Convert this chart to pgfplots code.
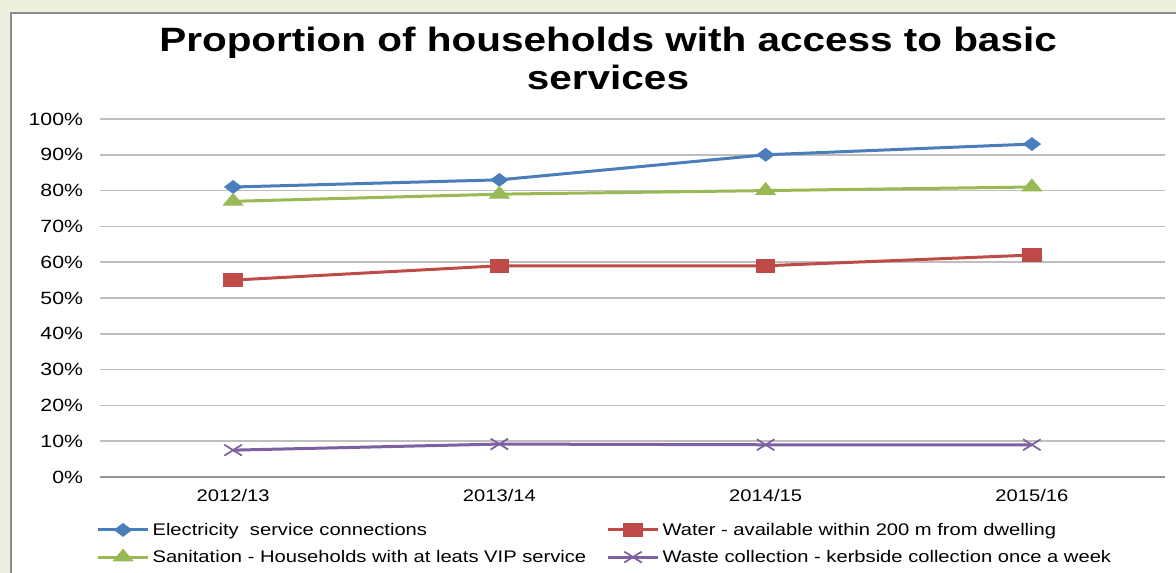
\documentclass[border=0pt]{standalone}
\usepackage{pgfplots}
\pgfplotsset{compat=1.18}
\usepackage{fontspec}
\setmainfont{Liberation Sans}[FakeStretch=1.2]
\definecolor{bg}{RGB}{235,241,222}
\definecolor{framec}{RGB}{140,140,140}
\definecolor{gridc}{RGB}{190,190,190}
\definecolor{axisc}{RGB}{150,150,150}
\definecolor{elec}{RGB}{74,126,187}
\definecolor{water}{RGB}{190,75,72}
\definecolor{sani}{RGB}{152,185,84}
\definecolor{waste}{RGB}{125,96,160}
\begin{document}
\begin{tikzpicture}[x=1pt,y=1pt]
\useasboundingbox (0,0) rectangle (882,429.75);
\fill[bg] (0,0) rectangle (882,429.75);
\fill[white] (8.25,-5) rectangle (890,420);
\draw[framec, line width=1.5pt] (8.25,-5) -- (8.25,420) -- (890,420);
\node[font=\fontsize{25.3}{30}\selectfont\bfseries, anchor=base, inner sep=0pt] at (456,390.75) {Proportion of households with access to basic};
\node[font=\fontsize{25.3}{30}\selectfont\bfseries, anchor=base, inner sep=0pt] at (456,362.5) {services};
\begin{axis}[
  at={(75pt,72pt)}, anchor=south west,
  width=798.75pt, height=268.5pt, scale only axis,
  xmin=-0.5, xmax=3.5, ymin=0, ymax=100,
  xtick={0,1,2,3}, xticklabels={2012/13,2013/14,2014/15,2015/16},
  ytick={10,20,...,100}, yticklabels={10\%,20\%,30\%,40\%,50\%,60\%,70\%,80\%,90\%,100\%},
  extra y ticks={0}, extra y tick labels={0\%},
  extra y tick style={major grid style={axisc, line width=1.1pt}},
  ymajorgrids, major grid style={gridc, line width=1.1pt},
  axis line style={draw=none}, major tick length=0pt,
  xticklabel style={font=\fontsize{12.6}{15}\selectfont, inner sep=0pt, yshift=-9pt},
  yticklabel style={font=\fontsize{13.3}{15}\selectfont, inner sep=0pt, xshift=-12.5pt},
  clip=false,
  legend columns=2, legend cell align=left,
  legend image code/.code={\draw[mark repeat=2, mark phase=2] plot coordinates {(0pt,0pt) (19pt,0pt) (38pt,0pt)};},
  legend style={at={(-0.0038,-0.1858)}, anchor=west, draw=none, fill=none, inner sep=0pt,
    font=\fontsize{12.6}{15}\selectfont, row sep=5.75pt,
    /tikz/every even column/.append style={column sep=13pt}},
]
\addplot[elec, line width=2.25pt, mark=diamond*, mark size=6.3pt, mark options={rotate=90, solid, line width=0.75pt}]
  coordinates {(0,81)(1,83)(2,90)(3,93)};
\addlegendentry{Electricity\ \ service connections}
\addplot[water, line width=2.25pt, mark=square*, mark size=5pt, mark options={xscale=1.4, solid, line width=0.75pt}]
  coordinates {(0,55)(1,59)(2,59)(3,62)};
\addlegendentry{Water - available within 200 m from dwelling}
\addplot[sani, line width=2.25pt, mark=triangle*, mark size=5.8pt, mark options={xscale=1.45, solid, line width=0.75pt}]
  coordinates {(0,77)(1,79)(2,80)(3,81)};
\addlegendentry{Sanitation - Households with at leats VIP service}
\addplot[waste, line width=2.25pt, mark=x, mark size=5.8pt, mark options={xscale=1.6, solid, line width=1.3pt}]
  coordinates {(0,7.5)(1,9.2)(2,9)(3,9)};
\addlegendentry{Waste collection - kerbside collection once a week}
\end{axis}
\end{tikzpicture}
\end{document}
